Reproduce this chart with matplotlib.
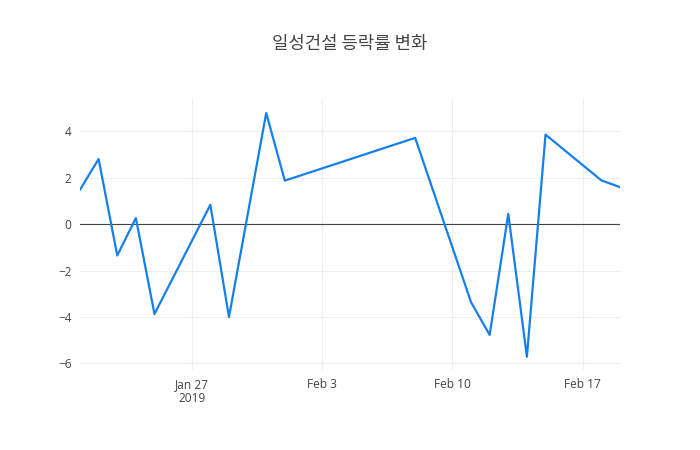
import matplotlib.pyplot as plt
import numpy as np

plt.rcParams["font.family"] = ["Noto Sans CJK KR", "Open Sans", "DejaVu Sans"]

# --- Data ---
dates = [
    "2019-01-21", "2019-01-22", "2019-01-23", "2019-01-24", "2019-01-25",
    "2019-01-28", "2019-01-29", "2019-01-31", "2019-02-01", "2019-02-08",
    "2019-02-11", "2019-02-12", "2019-02-13", "2019-02-14", "2019-02-15",
    "2019-02-18", "2019-02-19",
]
changes = [
    1.48, 2.80, -1.35, 0.26, -3.87,
    0.83, -4.00, 4.78, 1.87, 3.71,
    -3.36, -4.77, 0.44, -5.71, 3.85,
    1.88, 1.59,
]
tick_dates = ["2019-01-27", "2019-02-03", "2019-02-10", "2019-02-17"]
tick_labels = ["Jan 27\n2019", "Feb 3", "Feb 10", "Feb 17"]
y_ticks = [-6, -4, -2, 0, 2, 4]

x = np.array(dates, dtype="datetime64[D]")
xt = np.array(tick_dates, dtype="datetime64[D]")

fig = plt.figure(figsize=(7, 4.5), dpi=100)
ax = fig.add_axes([80 / 700, 1 - 370 / 450, 540 / 700, 270 / 450])

ax.plot(x, changes, color="#1580e8", linewidth=1.6, zorder=3)
ax.axhline(0, color="#444444", linewidth=0.8, zorder=2)

ax.set_xlim(x[0], x[-1])
ax.set_ylim(-6.28, 5.34)
ax.set_xticks(xt)
ax.set_xticklabels(tick_labels)
ax.set_yticks(y_ticks)
ax.set_yticklabels(["\u22126", "\u22124", "\u22122", "0", "2", "4"])

ax.grid(True, color="#eeeeee", linewidth=0.8, zorder=0)
for s in ax.spines.values():
    s.set_visible(False)
ax.tick_params(length=0, colors="#444444", labelsize=8.6, pad=6)
for lbl in ax.get_xticklabels() + ax.get_yticklabels():
    lbl.set_family(["Open Sans", "DejaVu Sans"])
    lbl.set_linespacing(1.1)

fig.text(0.5, 1 - 44 / 450, "일성건설 등락률 변화", ha="center", va="center",
         fontsize=12.8, color="#444444")

fig.savefig("out.png", dpi=100, facecolor="white")
